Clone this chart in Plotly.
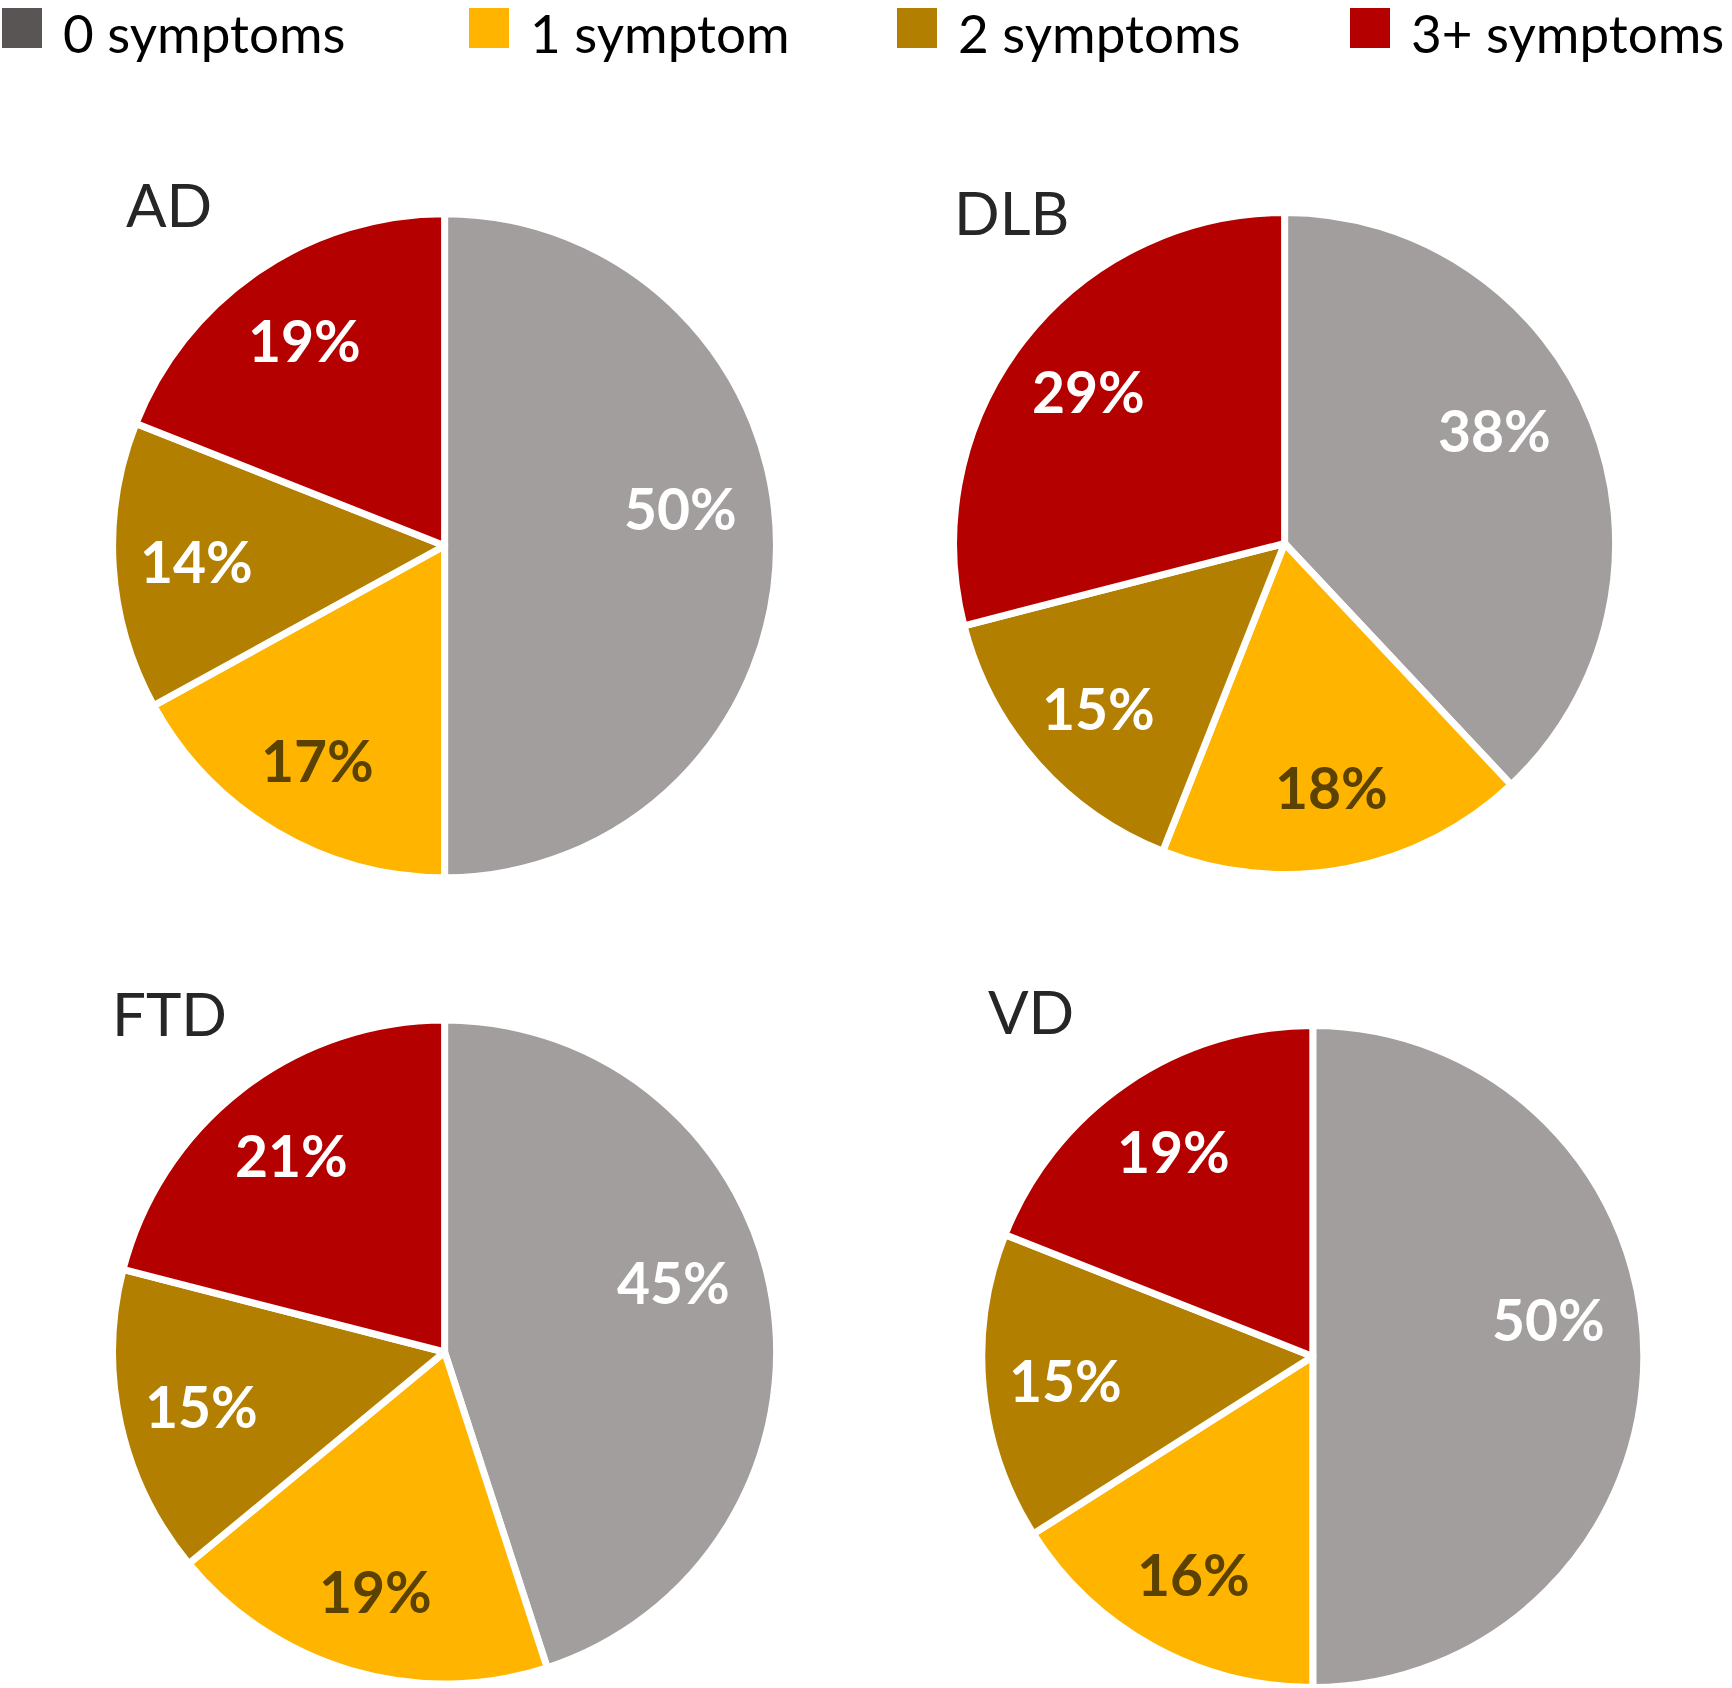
import math
import plotly.graph_objects as go

# categories and colours
categories = ["0 symptoms", "1 symptom", "2 symptoms", "3+ symptoms"]
slice_colors = ["#A39E9E", "#FFB500", "#B37F00", "#B50000"]
legend_colors = ["#5A5555", "#FFB500", "#B37F00", "#B50000"]
label_colors = ["white", "#5C4200", "white", "white"]

# percentage of patients per diagnosis group
groups = ["AD", "DLB", "FTD", "VD"]
ad_values = [50, 17, 14, 19]
dlb_values = [38, 18, 15, 29]
ftd_values = [45, 19, 15, 21]
vd_values = [50, 16, 15, 19]

W, H = 1732, 1688

# pie centre (px), radius, title anchor (px)
pie_boxes = [
    (444.6, 545.7, 332, 124, 204),
    (1284.6, 543.5, 331, 952, 212),
    (444.6, 1352.0, 332, 110, 1013),
    (1312.8, 1356.5, 331, 986, 1011),
]

# Excel's best-fit labels: big first slice sits a bit higher and further in
label_radius = [0.72, 0.75, 0.75, 0.75]
label_turn = [0.9, 1.0, 1.0, 1.0]

fig = go.Figure()

for name, vals, (cx, cy, r, tx, ty) in zip(
        groups, [ad_values, dlb_values, ftd_values, vd_values], pie_boxes):
    fig.add_trace(go.Pie(
        labels=categories,
        values=vals,
        sort=False,
        direction="clockwise",
        rotation=0,
        marker=dict(colors=slice_colors, line=dict(color="white", width=7)),
        textinfo="none",
        domain=dict(x=[max(0, (cx - r) / W), min(1, (cx + r) / W)],
                    y=[max(0, 1 - (cy + r) / H), min(1, 1 - (cy - r) / H)]),
        showlegend=False,
        name=name,
    ))
    fig.add_annotation(
        text=name, x=tx / W, y=1 - ty / H, xref="paper", yref="paper",
        xanchor="left", yanchor="middle", showarrow=False,
        font=dict(family="Lato", size=60, color="#262626"),
    )
    # percentage labels on each slice
    total = sum(vals)
    start = 0
    for v, tc, kr, kt in zip(vals, label_colors, label_radius, label_turn):
        mid = (start + v / 2) / total * 2 * math.pi * kt
        start += v
        lx = cx + kr * r * math.sin(mid)
        ly = cy - kr * r * math.cos(mid)
        fig.add_annotation(
            text=f"{v}%", x=lx / W, y=1 - ly / H, xref="paper", yref="paper",
            xanchor="center", yanchor="middle", showarrow=False,
            font=dict(family="Lato", size=57, color=tc, weight="bold"),
        )

# hand-made legend row across the top
sq_x = [2, 469, 897, 1350]
for cat, col, x0 in zip(categories, legend_colors, sq_x):
    fig.add_shape(type="rect", xref="paper", yref="paper",
                  x0=x0 / W, x1=(x0 + 40) / W, y0=1 - 48 / H, y1=1 - 8 / H,
                  fillcolor=col, line=dict(width=0))
    fig.add_annotation(
        text=cat, x=(x0 + 60) / W, y=1, xref="paper", yref="paper",
        xanchor="left", yanchor="top", showarrow=False, borderpad=0,
        font=dict(family="Lato", size=53, color="#000000"),
    )

fig.update_layout(
    width=W, height=H,
    margin=dict(l=0, r=0, t=0, b=0),
    paper_bgcolor="white",
    plot_bgcolor="white",
)

fig.write_html("out.html", config={"displayModeBar": False},
               post_script="document.body.style.margin='0';")
